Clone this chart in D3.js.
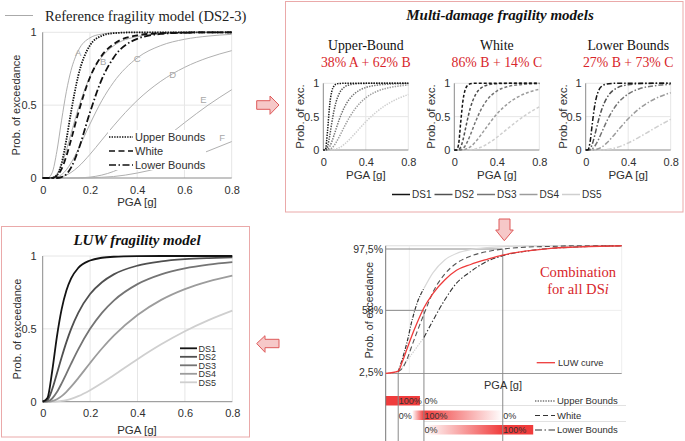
<!DOCTYPE html>
<html><head><meta charset="utf-8">
<script src="https://cdn.jsdelivr.net/npm/d3@7"></script>
<style>body{margin:0;background:#fff} svg{display:block}</style>
</head><body><svg id="c" width="685" height="441"></svg>
<script>
// ---------------- DATA ----------------
const pgaGrid = [0,0.02,0.04,0.06,0.08,0.1,0.12,0.15,0.2,0.25,0.3,0.4,0.5,0.6,0.7,0.8];
const xTickLabels = ["0","0.2","0.4","0.6","0.8"];
const xTickValues = [0,0.2,0.4,0.6,0.8];
const subXTickValues = [0,0.4,0.8];
const subXTickLabels = ["0","0.4","0.8"];
const yTickValues = [0,0.5,1];
const yTickLabels = ["0","0.5","1"];

// Reference fragility models A-F (DS2-3)
const refNames = ["A","B","C","D","E","F"];
const refA = [0,0,0.036,0.184,0.397,0.592,0.739,0.872,0.962,0.988,0.996,1,1,1,1,1];
const refB = [0,0,0.003,0.029,0.093,0.19,0.305,0.474,0.695,0.83,0.907,0.971,0.99,0.997,1,1];
const refC = [0,0,0.001,0.006,0.023,0.056,0.104,0.196,0.37,0.53,0.657,0.824,0.909,0.952,0.974,0.986];
const refD = [0,0,0,0.002,0.008,0.02,0.038,0.076,0.162,0.26,0.358,0.532,0.664,0.759,0.826,0.874];
const refE = [0,0,0,0,0,0,0,0.001,0.006,0.02,0.045,0.131,0.251,0.379,0.5,0.606];
const refF = [0,0,0,0,0,0,0,0,0.001,0.005,0.01,0.034,0.072,0.124,0.185,0.25];
const refLabelAt = [[0.15,0.86],[0.256,0.80],[0.40,0.82],[0.55,0.71],[0.68,0.54],[0.76,0.28]];
// Bound models (DS2-3)
const boundNames = ["Upper Bounds","White","Lower Bounds"];
const boundUpper = [0,0,0.001,0.018,0.10,0.261,0.453,0.699,0.91,0.976,0.994,1,1,1,1,1];
const boundWhite = [0,0,0.001,0.015,0.062,0.149,0.262,0.443,0.69,0.84,0.919,0.979,0.994,0.998,1,1];
const boundLower = [0,0,0,0,0.006,0.026,0.071,0.188,0.45,0.677,0.826,0.955,0.989,0.997,1,1];

// Multi-damage models
const dsNames = ["DS1","DS2","DS3","DS4","DS5"];
const multiTitles = ["Upper-Bound","White","Lower Bounds"];
const multiMix = ["38% A + 62% B","86% B + 14% C","27% B + 73% C"];
const upperDS = [
 [0,0.011,0.288,0.676,0.88,0.958,0.986,0.997,1,1,1,1,1,1,1,1],
 [0,0.001,0.053,0.209,0.407,0.583,0.718,0.846,0.945,0.979,0.992,0.999,1,1,1,1],
 [0,0,0.010,0.051,0.124,0.217,0.316,0.457,0.645,0.772,0.853,0.937,0.971,0.986,0.993,0.996],
 [0,0,0.001,0.009,0.029,0.063,0.111,0.198,0.355,0.5,0.619,0.783,0.876,0.928,0.957,0.974],
 [0,0,0,0,0.002,0.006,0.014,0.034,0.089,0.164,0.25,0.423,0.57,0.684,0.769,0.831]];
const whiteDS = [
 [0,0,0.082,0.41,0.722,0.89,0.96,0.992,1,1,1,1,1,1,1,1],
 [0,0,0.004,0.043,0.14,0.28,0.429,0.625,0.831,0.927,0.968,0.994,0.999,1,1,1],
 [0,0,0,0.005,0.022,0.057,0.113,0.222,0.425,0.601,0.732,0.884,0.95,0.977,0.99,0.995],
 [0,0,0,0,0.002,0.008,0.018,0.046,0.122,0.224,0.334,0.538,0.691,0.797,0.867,0.912],
 [0,0,0,0,0,0,0,0.004,0.016,0.041,0.08,0.189,0.317,0.442,0.554,0.647]];
const lowerDS = [
 [0,0.003,0.107,0.366,0.616,0.785,0.885,0.955,0.99,0.998,1,1,1,1,1,1],
 [0,0,0.016,0.08,0.188,0.316,0.442,0.603,0.783,0.883,0.936,0.979,0.993,0.998,1,1],
 [0,0,0.002,0.015,0.046,0.094,0.156,0.262,0.437,0.584,0.697,0.84,0.915,0.953,0.973,0.984],
 [0,0,0,0.001,0.003,0.008,0.018,0.043,0.108,0.194,0.288,0.468,0.614,0.724,0.802,0.859],
 [0,0,0,0,0,0,0,0.002,0.008,0.021,0.041,0.105,0.189,0.281,0.373,0.46]];

// LUW model
const luwDS = [
 [0,0.025,0.209,0.447,0.635,0.763,0.846,0.918,0.969,0.988,0.995,0.999,1,1,1,1],
 [0,0.0125,0.085,0.193,0.305,0.409,0.5,0.61,0.739,0.82,0.874,0.934,0.963,0.978,0.986,0.991],
 [0,0.002,0.022,0.066,0.126,0.193,0.261,0.359,0.5,0.61,0.694,0.807,0.874,0.915,0.941,0.958],
 [0,0,0.004,0.017,0.038,0.068,0.103,0.162,0.266,0.365,0.453,0.595,0.699,0.773,0.826,0.866],
 [0,0,0,0.002,0.005,0.011,0.020,0.038,0.079,0.128,0.182,0.292,0.394,0.484,0.56,0.625]];

// Combination panel (normalised PGA axis)
const combX = [0,0.053,0.07,0.09,0.11,0.13,0.162,0.2,0.25,0.3,0.36,0.43,0.5,0.6,0.7,0.8,1.0];
const combLUW   = [0.012,0.03,0.10,0.2,0.3,0.39,0.52,0.63,0.735,0.81,0.855,0.895,0.93,0.96,0.98,0.99,1.0];
const combUpper = [0.012,0.025,0.12,0.25,0.41,0.54,0.67,0.79,0.89,0.94,0.97,0.985,0.993,0.997,1,1,1];
const combWhite = [0.012,0.027,0.05,0.12,0.22,0.32,0.47,0.64,0.78,0.865,0.92,0.955,0.975,0.99,0.995,1,1];
const combLower = [0.012,0.027,0.06,0.11,0.16,0.21,0.29,0.42,0.58,0.71,0.80,0.88,0.925,0.96,0.98,0.99,1];
const combSplit = 0.162;
const combLevels = [0.025,0.5,0.975];
const combLevelLabels = ["2,5%","50%","97,5%"];
const combLevelX = [0.053,0.162,0.496];
const weightRows = [
  {name:"Upper Bounds", labels:[["100%",0],["0%",1]]},
  {name:"White", labels:[["0%",0],["100%",1],["0%",2]]},
  {name:"Lower Bounds", labels:[["0%",1],["100%",2]]}];

// ---------------- DRAWING ----------------
const SERIF = '"Liberation Serif","Times New Roman",serif';
const SANS = '"Liberation Sans",Arial,sans-serif';
const svg = d3.select("#c");
const RED = "#d8262b";
const BORDER = "#eaa9a9";
const GRID = "#e6e6e6";
const AXIS = "#8a8a8a";
const dsColors = ["#141414","#505050","#747474","#9c9c9c","#cfcfcf"];
const dash = {dot:"1.4,1.2", dashed:"6,3.5", dashdot:"7,2.5,1.5,2.5", none:null};

function pairs(xs, ys){ return xs.map((x,i)=>[x,ys[i]]); }

function axesFrame(g, x, y, o){
  const [X0,X1] = x.range(), [Y0,Y1] = y.range();
  g.append("g").selectAll("line").data(o.xt.filter(d=>d>0)).join("line")
    .attr("x1",d=>x(d)).attr("x2",d=>x(d)).attr("y1",Y0).attr("y2",Y1).attr("stroke",GRID);
  g.append("g").selectAll("line").data(o.yt.filter(d=>d>0)).join("line")
    .attr("y1",d=>y(d)).attr("y2",d=>y(d)).attr("x1",X0).attr("x2",X1).attr("stroke",GRID);
  g.append("line").attr("x1",X0).attr("x2",X0).attr("y1",Y0).attr("y2",Y1).attr("stroke",AXIS);
  g.append("line").attr("x1",X0).attr("x2",X1).attr("y1",Y0).attr("y2",Y0).attr("stroke",AXIS);
  const ax = g.append("g").attr("transform",`translate(0,${Y0})`)
    .call(d3.axisBottom(x).tickValues(o.xt).tickFormat((d,i)=>o.xl[i]).tickSize(0).tickPadding(o.xpad||8));
  ax.select(".domain").remove();
  ax.attr("font-family",SANS).attr("font-size",o.fs).selectAll("text").attr("fill","#303030");
  const ay = g.append("g").attr("transform",`translate(${X0},0)`)
    .call(d3.axisLeft(y).tickValues(o.yt).tickFormat((d,i)=>o.yl[i]).tickSize(0).tickPadding(o.ypad||6));
  ay.select(".domain").remove();
  ay.attr("font-family",SANS).attr("font-size",o.fs).selectAll("text").attr("fill","#303030");
}

function curve(g, x, y, xs, ys, color, w, da){
  const line = d3.line().x(d=>x(d[0])).y(d=>y(d[1])).curve(d3.curveMonotoneX);
  g.append("path").attr("d", line(pairs(xs,ys))).attr("fill","none")
    .attr("stroke",color).attr("stroke-width",w).attr("stroke-dasharray",da);
}

function text(g, x, y, s, o={}){
  return g.append("text").attr("x",x).attr("y",y).text(s)
    .attr("font-family",o.ff||SANS).attr("font-size",o.fs||11).attr("fill",o.fill||"#303030")
    .attr("text-anchor",o.anchor||"middle").attr("font-weight",o.fw||null).attr("font-style",o.fst||null);
}
function vlabel(g, cx, cy, s, fs){
  g.append("text").attr("transform",`translate(${cx},${cy}) rotate(-90)`).text(s)
    .attr("font-family",SANS).attr("font-size",fs).attr("fill","#303030").attr("text-anchor","middle").attr("dy","0.35em");
}

// ---- Panel 1: reference ----
{
  const g = svg.append("g");
  const x = d3.scaleLinear().domain([0,0.8]).range([42.7,231.7]);
  const y = d3.scaleLinear().domain([0,1]).range([178,32.3]);
  axesFrame(g,x,y,{xt:xTickValues,xl:xTickLabels,yt:yTickValues,yl:yTickLabels,fs:11});
  [refA,refB,refC,refD,refE,refF].forEach(c=>curve(g,x,y,pgaGrid,c,"#b0b0b0",1,null));
  refNames.forEach((n,i)=>text(g,x(refLabelAt[i][0]),y(refLabelAt[i][1])+3.5,n,{fs:9.5,fill:"#a8a8a8"}));
  curve(g,x,y,pgaGrid,boundLower,"#111",1.8,dash.dashdot);
  curve(g,x,y,pgaGrid,boundWhite,"#111",1.8,dash.dashed);
  curve(g,x,y,pgaGrid,boundUpper,"#111",1.8,dash.dot);
  // legend
  g.append("rect").attr("x",108).attr("y",130).attr("width",98).attr("height",40).attr("fill","#fff");
  const styles=[dash.dot,dash.dashed,dash.dashdot];
  boundNames.forEach((n,i)=>{
    const yy=137+i*14;
    g.append("line").attr("x1",109).attr("x2",133).attr("y1",yy).attr("y2",yy)
      .attr("stroke","#111").attr("stroke-width",1.6).attr("stroke-dasharray",styles[i]);
    text(g,135,yy+4,n,{fs:11,anchor:"start"});
  });
  vlabel(g,16,105,"Prob. of exceedance",11);
  text(g,137,205.5,"PGA [g]",{fs:11.5});
  g.append("line").attr("x1",5).attr("x2",33).attr("y1",15.5).attr("y2",15.5).attr("stroke","#aaa");
  text(g,45,20.5,"Reference fragility model (DS2-3)",{ff:SERIF,fs:14.6,anchor:"start",fill:"#222"});
}

// ---- Panel 2: multi-damage ----
{
  const g = svg.append("g");
  g.append("rect").attr("x",285.5).attr("y",1.5).attr("width",397.5).attr("height",210.5)
    .attr("fill","none").attr("stroke",BORDER);
  text(g,500,20,"Multi-damage fragility models",{ff:SERIF,fs:15,fw:"bold",fst:"italic",fill:"#111"});
  const x0s=[323.3,454.3,585.7];
  const sets=[upperDS,whiteDS,lowerDS];
  const styles=[dash.dot,"3,2","5,2,1.5,2"];
  x0s.forEach((x0,k)=>{
    const x=d3.scaleLinear().domain([0,0.8]).range([x0,x0+85]);
    const y=d3.scaleLinear().domain([0,1]).range([150,83.3]);
    const sg=g.append("g");
    axesFrame(sg,x,y,{xt:subXTickValues,xl:subXTickLabels,yt:yTickValues,yl:yTickLabels,fs:11,ypad:4});
    for(let i=4;i>=0;i--) curve(sg,x,y,pgaGrid,sets[k][i],dsColors[i],1.5,styles[k]);
    vlabel(sg,x0-23,116.5,"Prob. of exc.",11.5);
    text(sg,x0+42.5,179,"PGA [g]",{fs:11.5});
    const cx = x0+42.5;
    text(sg,cx,50,multiTitles[k],{ff:SERIF,fs:13.8,fill:"#111"});
    text(sg,cx,67,multiMix[k],{ff:SERIF,fs:13.8,fill:RED});
  });
  dsNames.forEach((n,i)=>{
    const lx=392+i*42.5;
    g.append("line").attr("x1",lx).attr("x2",lx+18).attr("y1",194.5).attr("y2",194.5)
      .attr("stroke",dsColors[i]).attr("stroke-width",1.5);
    text(g,lx+20,198,n,{fs:10,anchor:"start"});
  });
}

// ---- Panel 3: LUW ----
{
  const g = svg.append("g");
  g.append("rect").attr("x",1.5).attr("y",226.5).attr("width",248).attr("height",210.5)
    .attr("fill","none").attr("stroke",BORDER);
  text(g,137,245,"LUW fragility model",{ff:SERIF,fs:15,fw:"bold",fst:"italic",fill:"#111"});
  const x = d3.scaleLinear().domain([0,0.8]).range([42.7,232.3]);
  const y = d3.scaleLinear().domain([0,1]).range([401.7,256]);
  axesFrame(g,x,y,{xt:xTickValues,xl:xTickLabels,yt:yTickValues,yl:yTickLabels,fs:11});
  for(let i=4;i>=0;i--) curve(g,x,y,pgaGrid,luwDS[i],dsColors[i],1.8,null);
  dsNames.forEach((n,i)=>{
    const yy=348.3+i*8.5;
    g.append("line").attr("x1",180).attr("x2",197).attr("y1",yy).attr("y2",yy)
      .attr("stroke",dsColors[i]).attr("stroke-width",1.8);
    text(g,198.5,yy+3.2,n,{fs:9,anchor:"start"});
  });
  vlabel(g,17,329,"Prob. of exceedance",11);
  text(g,137,434,"PGA [g]",{fs:11.5});
}

// ---- Panel 4: combination ----
{
  const g = svg.append("g");
  const x = d3.scaleLinear().domain([0,1]).range([385.7,621.7]);
  const y = d3.scaleLinear().domain([0.025,0.975]).range([371.7,249]);
  const yTop=y(1), yBot=y(0.011);
  g.append("line").attr("x1",x(0)).attr("x2",x(1)).attr("y1",yTop).attr("y2",yTop).attr("stroke","#ddd");
  g.append("line").attr("x1",x(1)).attr("x2",x(1)).attr("y1",yTop).attr("y2",yBot).attr("stroke","#eee");
  g.append("line").attr("x1",x(0)).attr("x2",x(1)).attr("y1",y(0.5)).attr("y2",y(0.5)).attr("stroke","#eee");
  g.append("line").attr("x1",x(0.1)).attr("x2",x(0.1)).attr("y1",yTop).attr("y2",yBot).attr("stroke","#eee");
  g.append("line").attr("x1",x(0)).attr("x2",x(1)).attr("y1",yBot).attr("y2",yBot).attr("stroke","#999");
  const defs=svg.append("defs");
  const gr2=defs.append("linearGradient").attr("id","g2").attr("gradientUnits","userSpaceOnUse")
    .attr("x1",x(0.112)).attr("x2",x(combLevelX[2]));
  gr2.append("stop").attr("offset",0).attr("stop-color","#f03c3c").attr("stop-opacity",0);
  gr2.append("stop").attr("offset",(x(combLevelX[1])-x(0.112))/(x(combLevelX[2])-x(0.112))).attr("stop-color","#f03c3c").attr("stop-opacity",1);
  gr2.append("stop").attr("offset",1).attr("stop-color","#f03c3c").attr("stop-opacity",0);
  const gr3=defs.append("linearGradient").attr("id","g3").attr("gradientUnits","userSpaceOnUse")
    .attr("x1",x(combLevelX[1])).attr("x2",x(combLevelX[2]));
  gr3.append("stop").attr("offset",0).attr("stop-color","#f03c3c").attr("stop-opacity",0);
  gr3.append("stop").attr("offset",1).attr("stop-color","#f03c3c").attr("stop-opacity",1);
  g.append("rect").attr("x",x(0)).attr("y",396).attr("width",x(0.145)-x(0)).attr("height",9.5).attr("fill","#f03c3c");
  g.append("rect").attr("x",x(0.112)).attr("y",410.5).attr("width",x(combLevelX[2])-x(0.112)).attr("height",9.5).attr("fill","url(#g2)");
  g.append("rect").attr("x",x(combLevelX[1])).attr("y",425).attr("width",x(0.625)-x(combLevelX[1])).attr("height",9.5).attr("fill","url(#g3)");
  g.append("line").attr("x1",x(0.145)).attr("x2",626).attr("y1",405.5).attr("y2",405.5).attr("stroke","#e2e2e2");
  g.append("line").attr("x1",x(combLevelX[1])).attr("x2",626).attr("y1",421.5).attr("y2",421.5).attr("stroke","#e2e2e2");
  g.append("line").attr("x1",x(0)).attr("x2",x(0)).attr("y1",yTop).attr("y2",441).attr("stroke","#777");
  combLevels.forEach((p,i)=>{
    g.append("line").attr("x1",x(combLevelX[i])).attr("x2",x(combLevelX[i])).attr("y1",y(p)).attr("y2",441).attr("stroke","#8a8a8a");
    if(i>0) g.append("line").attr("x1",x(0)).attr("x2",x(combLevelX[i])).attr("y1",y(p)).attr("y2",y(p)).attr("stroke","#8a8a8a");
    text(g,383,y(p)+3.8,combLevelLabels[i],{fs:10.5,anchor:"end"});
  });
  const iS = combX.indexOf(combSplit);
  const L = combX.slice(0,iS+1), R = combX.slice(iS);
  curve(g,x,y,R,combUpper.slice(iS),"#d8d8d8",1.2,null);
  curve(g,x,y,L,combLower.slice(0,iS+1),"#cfcfcf",1.2,dash.dot);
  curve(g,x,y,combX.slice(1),combWhite.slice(1),"#555",1.1,"5,3");
  curve(g,x,y,L.slice(1),combUpper.slice(1,iS+1),"#333",1.2,"4,1.5,1,1.5");
  curve(g,x,y,R,combLower.slice(iS),"#333",1.1,"5,2,1.5,2");
  curve(g,x,y,combX,combLUW,"#ee3b3b",1.3,null);
  g.append("line").attr("x1",536.7).attr("x2",555).attr("y1",362.7).attr("y2",362.7).attr("stroke","#ee3b3b").attr("stroke-width",1.3);
  text(g,558,366,"LUW curve",{fs:9.2,anchor:"start"});
  text(g,578,277,"Combination",{ff:SERIF,fs:14.6,fill:RED});
  const t=text(g,578,294,"for all DS",{ff:SERIF,fs:14.6,fill:RED});
  t.append("tspan").attr("font-style","italic").text("i");
  text(g,503,389,"PGA [g]",{fs:11});
  vlabel(g,369,310,"Prob. of exceedance",10.5);
  const rowY=[401,415.5,430];
  const rowStyles=[dash.dot,"5,3",dash.dashdot];
  weightRows.forEach((r,i)=>{
    r.labels.forEach(([s,k])=>text(g,x(combLevelX[k])+0.5,rowY[i]+3.3,s,{fs:9,anchor:"start",fill:"#333"}));
    g.append("line").attr("x1",535).attr("x2",555).attr("y1",rowY[i]).attr("y2",rowY[i])
      .attr("stroke","#333").attr("stroke-width",1.1).attr("stroke-dasharray",rowStyles[i]);
    text(g,557,rowY[i]+3.4,r.name,{fs:9.5,anchor:"start"});
  });
}

// ---- Arrows ----
const arrowStyle = sel => sel.attr("fill","#f6c8c8").attr("stroke","#de5a5a").attr("stroke-width",1);
arrowStyle(svg.append("polygon").attr("points","256.7,100.7 270,100.7 270,96 279,105 270,114.3 270,109.3 256.7,109.3"));
arrowStyle(svg.append("polygon").attr("points","256.7,343.5 265,335.7 265,339.3 279,339.3 279,347.7 265,347.7 265,352.3"));
arrowStyle(svg.append("polygon").attr("points","499,219 510,219 510,230 513.3,230 504.3,240.7 495.7,230 499,230"));
</script></body></html>
